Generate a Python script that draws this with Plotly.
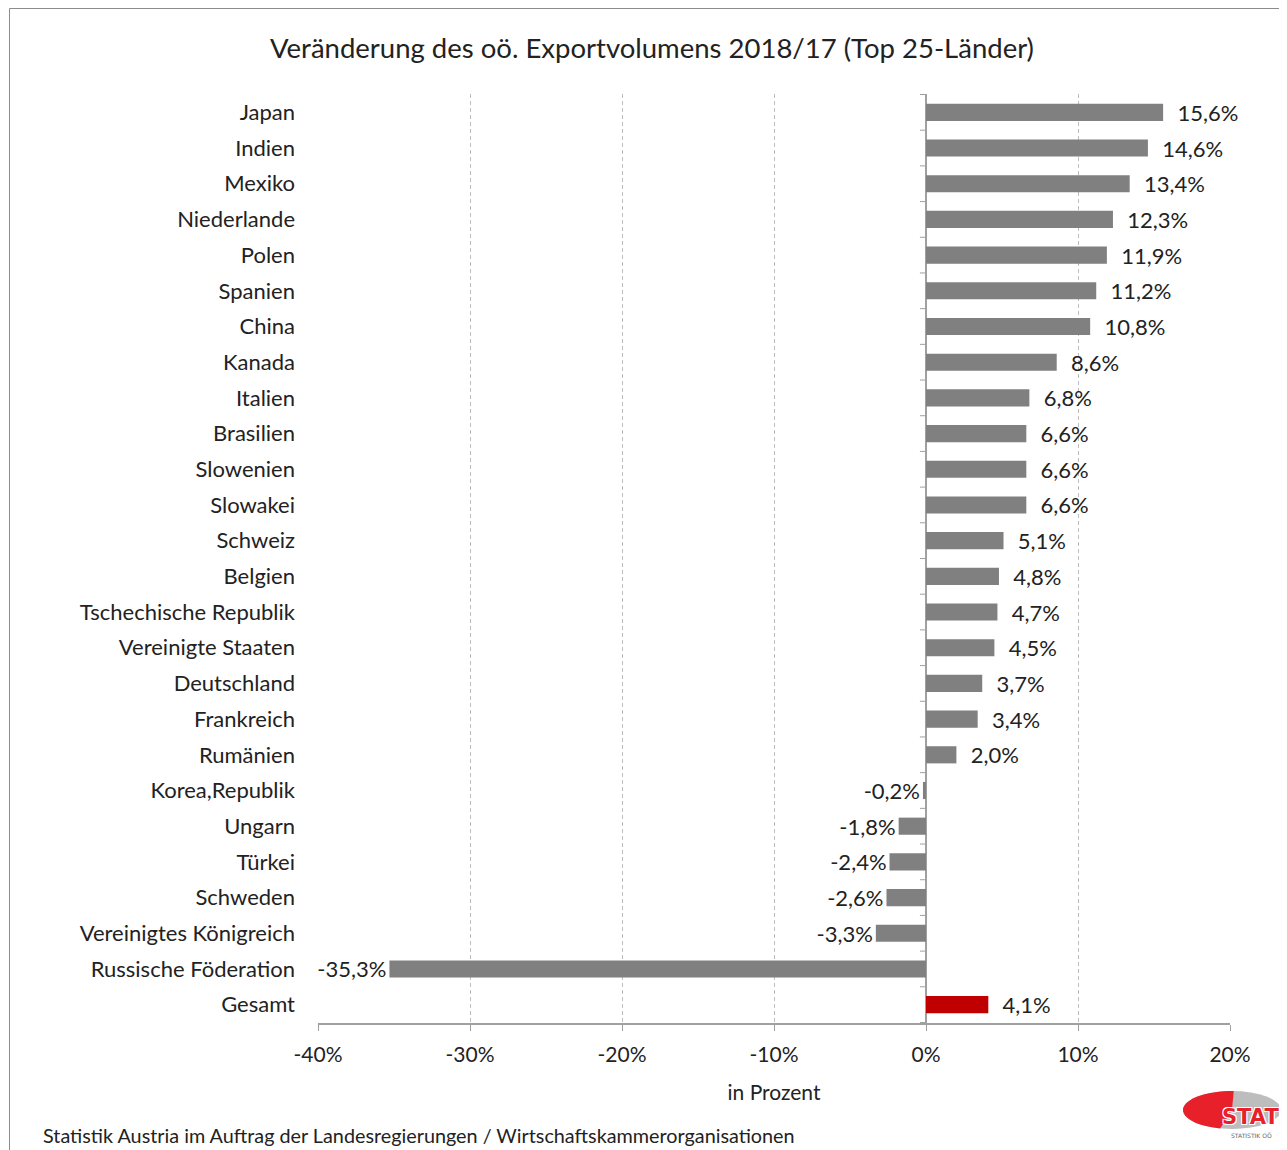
import math
import plotly.graph_objects as go

categories = ["Japan", "Indien", "Mexiko", "Niederlande", "Polen", "Spanien", "China",
              "Kanada", "Italien", "Brasilien", "Slowenien", "Slowakei", "Schweiz",
              "Belgien", "Tschechische Republik", "Vereinigte Staaten", "Deutschland",
              "Frankreich", "Rumänien", "Korea,Republik", "Ungarn", "Türkei", "Schweden",
              "Vereinigtes Königreich", "Russische Föderation", "Gesamt"]
values = [15.6, 14.6, 13.4, 12.3, 11.9, 11.2, 10.8, 8.6, 6.8, 6.6, 6.6, 6.6, 5.1,
          4.8, 4.7, 4.5, 3.7, 3.4, 2.0, -0.2, -1.8, -2.4, -2.6, -3.3, -35.3, 4.1]
x_ticks = [-40, -30, -20, -10, 0, 10, 20]
x_tick_labels = ["-40%", "-30%", "-20%", "-10%", "0%", "10%", "20%"]

OFF = 8  # page body margin
W, H = 1287 - OFF, 1150 - OFF
L, R, T, B = 318 - OFF, 57, 94 - OFF, 127
pw, ph = W - L - R, H - T - B


def px(x):
    return (x - OFF - L) / pw


def py(y):
    return (H - B - (y - OFF)) / ph


FONT = "Lato, 'Open Sans', sans-serif"
colors = ["#C00000" if c == "Gesamt" else "#808080" for c in categories]
labels = []
for v in values:
    s = ("%.1f%%" % v).replace(".", ",")
    labels.append("\u00a0\u00a0" + s if v >= 0 else s)

fig = go.Figure(go.Bar(
    x=values, y=categories, orientation="h",
    marker=dict(color=colors, line=dict(width=0)),
    text=labels, textposition="outside", cliponaxis=False, constraintext="none",
    textfont=dict(family=FONT, size=22, color="#222222"),
    width=0.48, hoverinfo="skip",
))

shapes = []
for i in range(len(categories) + 1):
    shapes.append(dict(type="line", xref="x", yref="y", x0=-0.4, x1=0,
                       y0=i - 0.5, y1=i - 0.5, line=dict(color="#A0A0A0", width=1)))
shapes.append(dict(type="rect", xref="paper", yref="paper",
                   x0=px(9.5), x1=px(1300), y0=py(1160), y1=py(8.5),
                   line=dict(color="#8C8C8C", width=1), layer="below"))
shapes.append(dict(type="circle", xref="paper", yref="paper",
                   x0=px(1183), x1=px(1281), y0=py(1129), y1=py(1091),
                   fillcolor="#BDBDBD", line=dict(width=0)))
cx, cy = 1232, 1110
pts = []
for a in range(88, 260, 6):
    r = math.radians(a)
    pts.append((cx + 49 * math.cos(r), cy - 19 * math.sin(r)))
path = "M %f,%f " % (px(cx), py(cy)) + " ".join("L %f,%f" % (px(x), py(y)) for x, y in pts) + " Z"
shapes.append(dict(type="path", xref="paper", yref="paper", path=path,
                   fillcolor="#E8202A", line=dict(width=0)))

annotations = [
    dict(text="Statistik Austria im Auftrag der Landesregierungen / Wirtschaftskammerorganisationen",
         xref="paper", yref="paper", x=px(41), y=py(1135), xanchor="left", yanchor="middle",
         showarrow=False, font=dict(family=FONT, size=19.8, color="#222222")),
    dict(text="<b>STAT</b>", xref="paper", yref="paper", x=px(1250), y=py(1117),
         xanchor="center", yanchor="middle", showarrow=False,
         font=dict(family="'DejaVu Sans', sans-serif", size=21, color="#E8202A",
                   shadow="1px 1px 0 #FFFFFF, -1px -1px 0 #FFFFFF, 1px -1px 0 #FFFFFF, -1px 1px 0 #FFFFFF")),
    dict(text="STATISTIK OÖ", xref="paper", yref="paper", x=px(1251), y=py(1135),
         xanchor="center", yanchor="middle", showarrow=False,
         font=dict(family="'DejaVu Sans', sans-serif", size=6, color="#666666")),
]

fig.update_layout(
    width=W, height=H,
    margin=dict(l=L, r=R, t=T, b=B),
    paper_bgcolor="white", plot_bgcolor="white",
    title=dict(text="Veränderung des oö. Exportvolumens 2018/17 (Top 25-Länder)",
               x=px(652), xref="paper", xanchor="center",
               y=1 - (48 - OFF) / H, yanchor="middle",
               font=dict(family=FONT, size=27.5, color="#222222")),
    font=dict(family=FONT, color="#222222"),
    showlegend=False,
    bargap=0.52,
    shapes=shapes,
    annotations=annotations,
    xaxis=dict(range=[-40, 20], tickvals=x_ticks, ticktext=x_tick_labels,
               showgrid=True, gridcolor="#BDBDBD", griddash="4px,3px", gridwidth=1,
               zeroline=True, zerolinecolor="#A0A0A0", zerolinewidth=1.5,
               showline=True, linecolor="#A0A0A0", linewidth=1.5,
               ticks="outside", ticklen=6, tickcolor="#A0A0A0",
               ticklabelstandoff=6,
               tickfont=dict(family=FONT, size=21, color="#222222"),
               title=dict(text="in Prozent", standoff=20,
                          font=dict(family=FONT, size=21, color="#222222"))),
    yaxis=dict(categoryorder="array", categoryarray=categories, autorange="reversed",
               showgrid=False, showline=False, ticks="", ticklabelstandoff=22,
               tickfont=dict(family=FONT, size=22, color="#222222")),
)

fig.write_html("out.html")
